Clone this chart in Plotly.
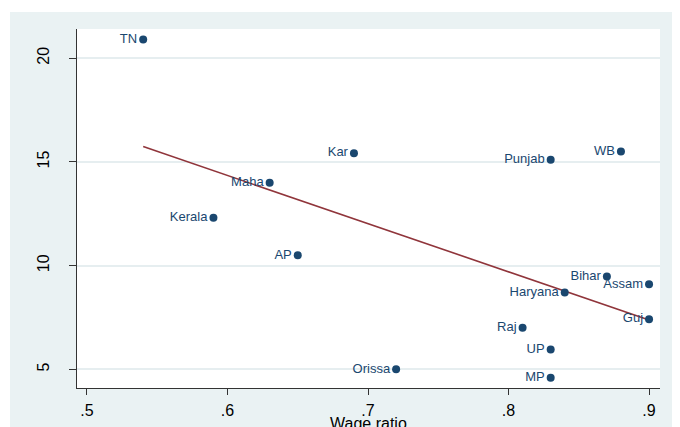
import plotly.graph_objects as go

# ---- data ----
states = ["TN", "Kar", "Punjab", "WB", "Maha", "Kerala", "AP", "Bihar",
          "Assam", "Haryana", "Guj", "Raj", "UP", "Orissa", "MP"]
wage_ratio = [0.54, 0.69, 0.83, 0.88, 0.63, 0.59, 0.65, 0.87,
              0.90, 0.84, 0.90, 0.81, 0.83, 0.72, 0.83]
yvals = [20.9, 15.42, 15.11, 15.5, 14.0, 12.31, 10.5, 9.48,
         9.10, 8.71, 7.42, 7.01, 5.96, 5.0, 4.60]
fit_x = [0.54, 0.90]
fit_y = [15.74, 7.38]
x_ticks = [0.5, 0.6, 0.7, 0.8, 0.9]
x_ticklabels = [".5", ".6", ".7", ".8", ".9"]
y_ticks = [5, 10, 15, 20]
y_ticklabels = ["5", "10", "15", "20"]
x_title = "Wage ratio"

# ---- styling ----
# the page body adds an 8px offset, so the figure is sized to fill the rest
OFF = 8
W, H = 680 - OFF, 427 - OFF
L, T = 77 - OFF, 29 - OFF
R = W - (660 - OFF)
B = H - (388 - OFF)
NAVY = "#1a476f"
MAROON = "#90353b"
OUTER = "#eaf2f3"
FONT = "Liberation Sans, Arial, sans-serif"

fig = go.Figure()
fig.add_trace(go.Scatter(
    x=fit_x, y=fit_y, mode="lines",
    line=dict(color=MAROON, width=1.6), hoverinfo="skip", showlegend=False))
fig.add_trace(go.Scatter(
    x=wage_ratio, y=yvals, mode="markers+text", text=states,
    textposition="middle left",
    textfont=dict(family=FONT, size=13, color=NAVY),
    marker=dict(color=NAVY, size=8), showlegend=False))

# outer light frame drawn as four bands around the plot area
pw, ph = W - L - R, H - T - B
def px_x(p):
    return (p - OFF - L) / pw
def px_y(p):
    return (H - B - (p - OFF)) / ph
fx0, fx1 = px_x(10), px_x(677)
fy0, fy1 = px_y(427), px_y(12)
bands = [
    (fx0, fx1, 1, fy1),     # top
    (fx0, fx1, fy0, 0),     # bottom
    (fx0, 0, 0, 1),         # left
    (1, fx1, 0, 1),         # right
]
for x0, x1, y0, y1 in bands:
    fig.add_shape(type="rect", xref="paper", yref="paper",
                  x0=x0, x1=x1, y0=y0, y1=y1,
                  fillcolor=OUTER, line=dict(width=0), layer="below")

# x-axis title as an annotation (it sits partly below the window edge)
fig.add_annotation(
    x=0.5, y=px_y(413), xref="paper", yref="paper",
    xanchor="center", yanchor="top", showarrow=False,
    text=x_title, font=dict(family=FONT, size=16, color="black"))

fig.update_layout(
    width=W, height=H,
    margin=dict(l=L, r=R, t=T, b=B, autoexpand=False),
    paper_bgcolor="white", plot_bgcolor="white",
    font=dict(family=FONT, color="black"),
)
fig.update_xaxes(
    automargin=False,
    range=[0.4929, 0.9078], tickvals=x_ticks, ticktext=x_ticklabels,
    showgrid=False, zeroline=False,
    showline=True, linecolor="#333333", linewidth=1.2,
    ticks="outside", ticklen=6, tickcolor="#333333", tickwidth=1,
    tickfont=dict(family=FONT, size=16, color="black"),
    ticklabelstandoff=2,
)
fig.update_yaxes(
    automargin=False,
    range=[4.10, 21.41], tickvals=y_ticks, ticktext=y_ticklabels,
    tickangle=-90,
    showgrid=True, gridcolor="#e6eef0", gridwidth=1.5, zeroline=False,
    showline=True, linecolor="#333333", linewidth=1.2,
    ticks="outside", ticklen=7, tickcolor="#333333", tickwidth=1,
    tickfont=dict(family=FONT, size=16, color="black"),
    ticklabelstandoff=14,
)

fig.write_html("out.html")
